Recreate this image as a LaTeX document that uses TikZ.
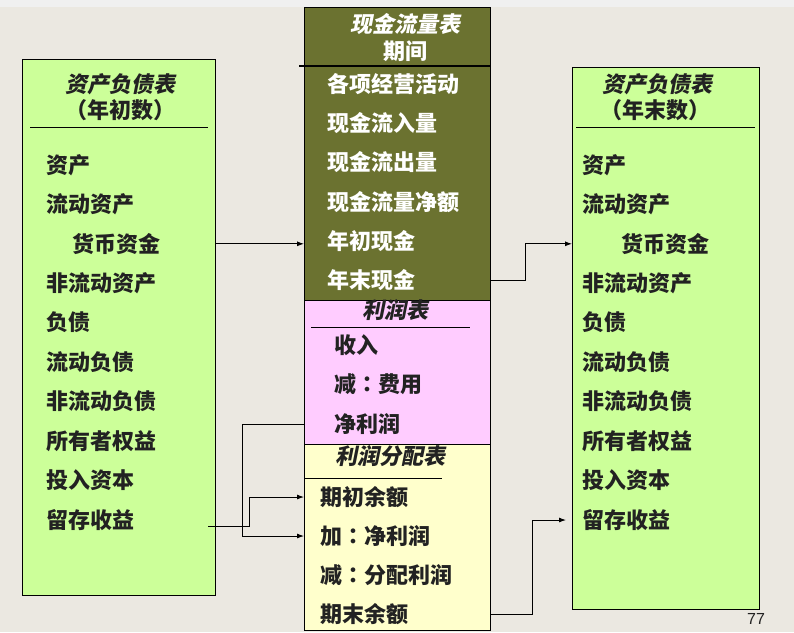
\documentclass[tikz,border=0pt]{standalone}
\usepackage{fontspec}
\setmainfont{Noto Sans CJK SC}
\newfontfamily\slfont{Noto Sans CJK SC}[FakeSlant=0.2]
\newfontfamily\colonfont{Noto Sans CJK TC}
\newfontfamily\numfont{Liberation Sans}
\newcommand{\midcolon}{{\colonfont ：}}
\newcommand{\inparen}[1]{{\colonfont （}#1{\colonfont ）}}
\usetikzlibrary{arrows.meta}

\definecolor{pagebg}{HTML}{EBE8E1}
\definecolor{topband}{HTML}{F0F0F0}
\definecolor{sheetgreen}{HTML}{CCFF99}
\definecolor{casholive}{HTML}{6B7230}
\definecolor{incomepink}{HTML}{FFCCFF}
\definecolor{distyellow}{HTML}{FFFFCC}
\definecolor{inkdark}{HTML}{222222}

\begin{document}
\begin{tikzpicture}[x=1pt, y=-1pt,
    sheet/.style={draw, line width=1.2pt, inner sep=0pt, anchor=north west},
    item/.style={font=\bfseries\fontsize{22}{26}\selectfont, text=inkdark, anchor=west, inner sep=0pt},
    title/.style={font=\slfont\bfseries\fontsize{22}{26}\selectfont, text=inkdark, inner sep=0pt},
    link/.style={line width=0.9pt, -{Latex[length=7pt,width=5pt]}}
]
    % Page
    \fill[pagebg] (0,0) rectangle (794,632);
    \fill[topband] (0,0) rectangle (794,7);
    \useasboundingbox (0,0) rectangle (794,632);

    % Balance sheet (opening)
    \node[sheet, fill=sheetgreen, minimum width=193pt, minimum height=536pt] (bsOpen) at (22,59) {};
    \node[title] (bsOpenT) at (120,84) {资产负债表};
    \node[item, anchor=center] (bsOpenS) at (120,110) {\inparen{年初数}};
    \draw[line width=0.9pt] (30,127) -- (208,127);
    \foreach \t/\dx [count=\i] in {资产/0,流动资产/0,货币资金/26,非流动资产/0,负债/0,
        流动负债/0,非流动负债/0,所有者权益/0,投入资本/0,留存收益/0} {
        \node[item] (L\i) at (46+\dx,165+39.4*\i-39.4) {\t};
    }

    % Balance sheet (closing)
    \node[sheet, fill=sheetgreen, minimum width=187pt, minimum height=542pt] (bsClose) at (572,67) {};
    \node[title] (bsCloseT) at (657,84) {资产负债表};
    \node[item, anchor=center] (bsCloseS) at (655,110) {\inparen{年末数}};
    \draw[line width=0.9pt] (576,127) -- (755,127);
    \foreach \t/\dx [count=\i] in {资产/0,流动资产/0,货币资金/39,非流动资产/0,负债/0,
        流动负债/0,非流动负债/0,所有者权益/0,投入资本/0,留存收益/0} {
        \node[item] (R\i) at (582+\dx,165+39.4*\i-39.4) {\t};
    }

    % Cash flow statement
    \node[sheet, fill=casholive, minimum width=186pt, minimum height=293pt] (cash) at (304,7) {};
    \node[title, text=white] (cashT) at (405,24) {现金流量表};
    \node[item, anchor=center, text=white] (cashS) at (405,51) {期间};
    \draw[line width=1.2pt] (299,66) -- (490,66);
    \foreach \t [count=\i] in {各项经营活动,现金流入量,现金流出量,现金流量净额,年初现金,年末现金} {
        \node[item, text=white] (C\i) at (327,84+39.2*\i-39.2) {\t};
    }

    % Income statement
    \node[sheet, fill=incomepink, minimum width=186pt, minimum height=144pt] (income) at (304,300) {};
    \node[title] (incomeT) at (395,310) {利润表};
    \draw[line width=0.9pt] (311,327) -- (470,327);
    \foreach \t [count=\i] in {收入,减\midcolon 费用,净利润} {
        \node[item] (I\i) at (334,345+39.5*\i-39.5) {\t};
    }

    % Profit distribution statement
    \node[sheet, fill=distyellow, minimum width=186pt, minimum height=186pt] (dist) at (304,444) {};
    \node[title] (distT) at (390,456) {利润分配表};
    \draw[line width=0.9pt] (304,478) -- (442,478);
    \foreach \t [count=\i] in {期初余额,加\midcolon 净利润,减\midcolon 分配利润,期末余额} {
        \node[item] (D\i) at (320,497+39*\i-39) {\t};
    }

    % Page number
    \node[font=\numfont\fontsize{16}{18}\selectfont, text=inkdark] (pageno) at (756,619) {77};

    % Links
    \coordinate (reStart) at (208,526);
    \coordinate (reEnd) at (566,520);
    \draw[link] (bsOpen.east |- L3) -- (cash.west |- L3);
    \draw[link] (cash.east |- C6) -- ++(34,0) |- (bsClose.west |- R3);
    \draw[link] (reStart) -- ++(41,0) |- (dist.west |- D1);
    \draw[link] (income.west |- I3) -- ++(-62,0) |- (dist.west |- D2);
    \draw[link] (dist.east |- D4) -- ++(41,0) |- (reEnd);
\end{tikzpicture}
\end{document}
